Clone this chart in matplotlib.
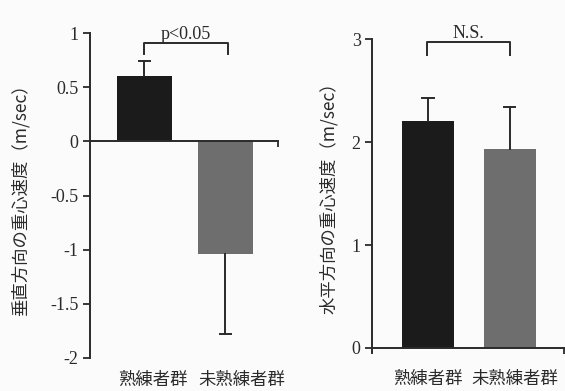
import matplotlib
matplotlib.use("Agg")
import matplotlib.pyplot as plt


# ---------------- DATA ---------------- #

groups = ["熟練者群", "未熟練者群"]

vertical_mean = [0.60, -1.04]
vertical_sd = [0.14, 0.74]

horizontal_mean = [2.20, 1.93]
horizontal_sd = [0.23, 0.41]

vertical_ticks = [1, 0.5, 0, -0.5, -1, -1.5, -2]
vertical_tick_labels = ["1", "0.5", "0", "-0.5", "-1", "-1.5", "-2"]
horizontal_ticks = [0, 1, 2, 3]

bar_colors = ["#1b1b1b", "#6e6e6e"]
ink = "#2a2a2a"

jp_font = ["Noto Sans CJK JP", "DejaVu Sans"]
num_font = "Liberation Serif"


# ---------------- FIGURE ---------------- #

fig = plt.figure(figsize=(5.65, 3.91), dpi=100)
fig.patch.set_facecolor("#fbfbfb")

ax1 = fig.add_axes([0.159, 0.0844, 0.333, 0.831])
ax2 = fig.add_axes([0.658, 0.110, 0.340, 0.790])

for ax in (ax1, ax2):
    ax.set_facecolor("none")
    ax.spines["top"].set_visible(False)
    ax.spines["right"].set_visible(False)
    for side in ("left", "bottom"):
        ax.spines[side].set_linewidth(1.4)
        ax.spines[side].set_color(ink)
    ax.tick_params(axis="y", direction="out", length=5, width=1.3,
                   colors=ink, pad=3)
    ax.tick_params(axis="x", direction="out", length=4, width=1.3,
                   colors=ink, labelbottom=False)


def one_sided_error(ax, xs, means, sds, half=0.07):
    # whisker runs away from zero, single cap at the far end
    for x, m, s in zip(xs, means, sds):
        end = m + s if m >= 0 else m - s
        ax.plot([x, x], [m, end], color=ink, linewidth=1.4, zorder=3)
        ax.plot([x - half, x + half], [end, end], color=ink,
                linewidth=1.4, zorder=3)


def significance(ax, x0, x1, y, drop, text):
    ax.plot([x0, x0, x1, x1], [y - drop, y, y, y - drop],
            color=ink, linewidth=1.4, clip_on=False)
    ax.text((x0 + x1) / 2, y, text, ha="center", va="bottom",
            fontsize=13, family=num_font, color=ink)


# ---------------- VERTICAL VELOCITY ---------------- #

pos = [0, 1]

ax1.bar(pos, vertical_mean, width=0.67, color=bar_colors, zorder=2)
one_sided_error(ax1, pos, vertical_mean, vertical_sd)

ax1.set_xlim(-0.673, 1.648)
ax1.set_ylim(-2, 1)
ax1.spines["bottom"].set_position(("data", 0))
ax1.set_xticks([1.648])
ax1.set_yticks(vertical_ticks)
ax1.set_yticklabels(vertical_tick_labels, fontsize=13, family=num_font)

significance(ax1, 0, 1.03, 0.91, 0.1, "p<0.05")

ax1.set_ylabel("垂直方向の重心速度（m/sec）", family=jp_font,
               fontsize=12.5, color=ink, labelpad=15)

for x, name in zip([0.1, 1.2], groups):
    ax1.text(x, -0.068, name, transform=ax1.get_xaxis_transform(),
             ha="center", va="center", family=jp_font, fontsize=12.5,
             color=ink)


# ---------------- HORIZONTAL VELOCITY ---------------- #

ax2.bar(pos, horizontal_mean, width=0.63, color=bar_colors, zorder=2)
one_sided_error(ax2, pos, horizontal_mean, horizontal_sd)

ax2.set_xlim(-0.683, 1.66)
ax2.set_ylim(0, 3)
ax2.spines["left"].set_bounds(-0.05, 3)
ax2.set_xticks([1.66])
ax2.set_yticks(horizontal_ticks)
ax2.set_yticklabels([str(t) for t in horizontal_ticks], fontsize=13,
                    family=num_font)

significance(ax2, -0.01, 1.0, 2.97, 0.12, "N.S.")

ax2.set_ylabel("水平方向の重心速度（m/sec）", family=jp_font,
               fontsize=12.5, color=ink, labelpad=10)

for x, name in zip([0.0, 1.06], groups):
    ax2.text(x, -0.1, name, transform=ax2.get_xaxis_transform(),
             ha="center", va="center", family=jp_font, fontsize=12.5,
             color=ink)

fig.savefig("out.png", dpi=100)
